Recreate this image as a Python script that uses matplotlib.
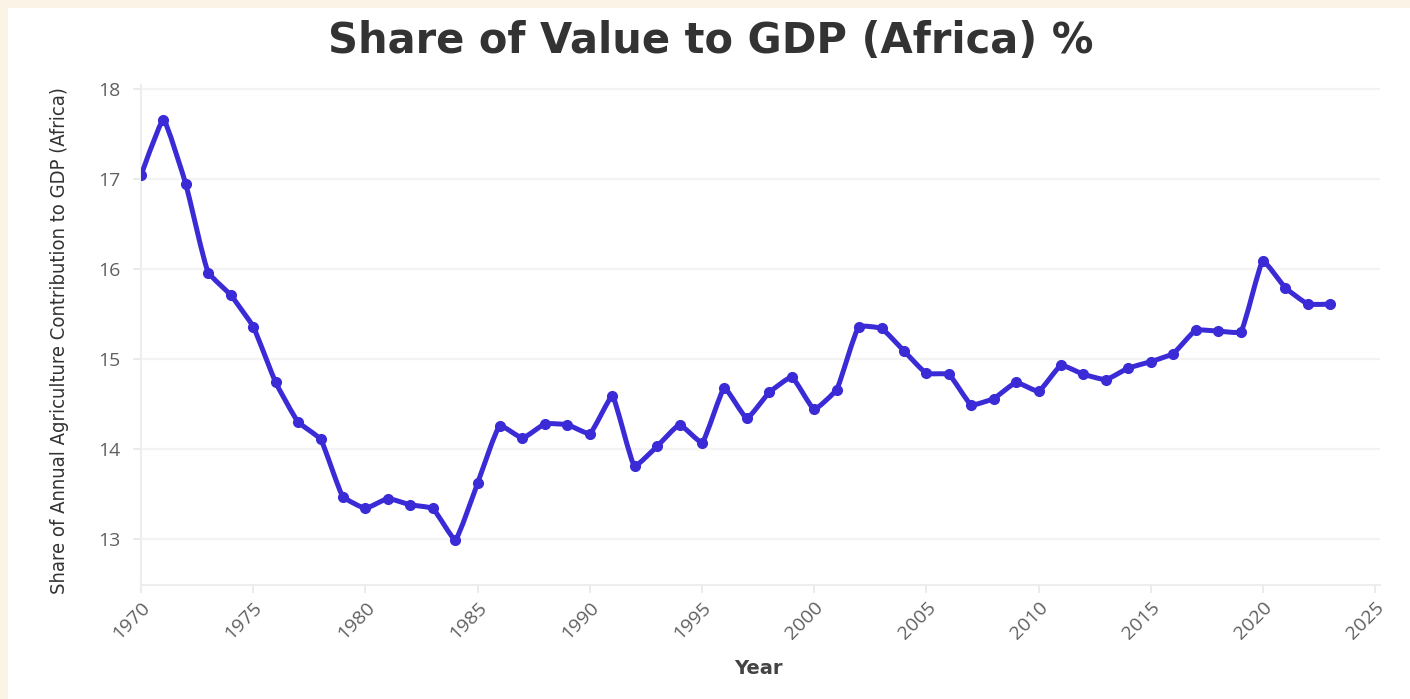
import numpy as np
import matplotlib
matplotlib.use("Agg")
import matplotlib.pyplot as plt
from matplotlib.path import Path
from matplotlib.patches import PathPatch, Rectangle
from matplotlib import font_manager

# データ
years = list(range(1970, 2024))
share = [
    17.04, 17.66, 16.94, 15.96, 15.71, 15.36, 14.74, 14.30, 14.11, 13.47,
    13.34, 13.45, 13.38, 13.34, 12.99, 13.62, 14.26, 14.12, 14.28, 14.27,
    14.17, 14.59, 13.81, 14.03, 14.27, 14.07, 14.68, 14.34, 14.63, 14.80,
    14.44, 14.66, 15.36, 15.34, 15.09, 14.84, 14.83, 14.49, 14.56, 14.74,
    14.64, 14.93, 14.83, 14.77, 14.90, 14.97, 15.06, 15.32, 15.31, 15.30,
    16.09, 15.79, 15.61, 15.61,
]
x_ticks = list(range(1970, 2030, 5))
y_ticks = [13, 14, 15, 16, 17, 18]

title = "Share of Value to GDP (Africa) %"
x_label = "Year"
y_label = "Share of Annual Agriculture Contribution to GDP (Africa)"

LINE_COLOR = "#3B2BD6"
W, H = 1410, 699


def pick_font(*names):
    installed = {f.name for f in font_manager.fontManager.ttflist}
    for n in names:
        if n in installed:
            return n
    return "DejaVu Sans"


def has_condensed(family):
    return any(f.name == family and f.stretch in ("condensed", 300, "semi-condensed")
               for f in font_manager.fontManager.ttflist)


def make_tangent(prev, cur, nxt, smooth):
    # plotly の spline と同じ接線計算（ピクセル座標）
    d1 = prev - cur
    d2 = nxt - cur
    d1a = np.hypot(*d1) ** 0.5
    d2a = np.hypot(*d2) ** 0.5
    num = (d2a * d2a * d1 - d1a * d1a * d2) * smooth
    den1 = 3 * d2a * (d1a + d2a)
    den2 = 3 * d1a * (d1a + d2a)
    return cur + num / den1, cur - num / den2


def spline_path(ax, xs, ys, smooth=0.35):
    pts = ax.transData.transform(np.column_stack([xs, ys]))
    tans = [make_tangent(pts[i - 1], pts[i], pts[i + 1], smooth) for i in range(1, len(pts) - 1)]
    verts = [pts[0], tans[0][0], pts[1]]
    codes = [Path.MOVETO, Path.CURVE3, Path.CURVE3]
    for i in range(2, len(pts) - 1):
        verts += [tans[i - 2][1], tans[i - 1][0], pts[i]]
        codes += [Path.CURVE4] * 3
    verts += [tans[-1][1], pts[-1]]
    codes += [Path.CURVE3] * 2
    verts = ax.transData.inverted().transform(np.array(verts))
    return Path(verts, codes)


def main():
    tick_font = pick_font("Open Sans", "DejaVu Sans")
    narrow_font = pick_font("Liberation Sans Narrow", "DejaVu Sans")
    narrow_kw = {}
    if narrow_font == "DejaVu Sans" and has_condensed("DejaVu Sans"):
        narrow_kw = {"fontstretch": "condensed"}
        ylab_size = 14.5
    elif narrow_font == "DejaVu Sans":
        ylab_size = 12.5
    else:
        ylab_size = 15.5

    fig = plt.figure(figsize=(W / 100, H / 100), dpi=100, facecolor="#FBF3E6")
    fig.patches.append(Rectangle((8 / W, 0), 1, 1 - 8 / H, transform=fig.transFigure,
                                 facecolor="white", edgecolor="none", zorder=-5))

    left, right, bottom, top = 141, 1380, 585, 85
    ax = fig.add_axes([left / W, 1 - bottom / H, (right - left) / W, (bottom - top) / H])
    ax.set_facecolor("white")
    ax.set_xlim(1970, 1970 + (right - left) / 22.44)
    ax.set_ylim(18 - (bottom - 89) / 90, 18 + (89 - top) / 90)

    for s in ["top", "right"]:
        ax.spines[s].set_visible(False)
    for s in ["left", "bottom"]:
        ax.spines[s].set_color("#EDEDED")
        ax.spines[s].set_linewidth(1.5)

    ax.set_yticks(y_ticks)
    ax.set_xticks(x_ticks)
    ax.grid(axis="y", color="#F3F3F3", linewidth=1.6)
    ax.set_axisbelow(True)
    ax.tick_params(axis="both", color="#E8E8E8", length=6, width=1.2,
                   labelcolor="#606060", labelsize=14)
    ax.tick_params(axis="y", pad=9)
    for lab in ax.get_xticklabels() + ax.get_yticklabels():
        lab.set_fontfamily(tick_font)
    plt.setp(ax.get_xticklabels(), rotation=45, ha="right", rotation_mode="anchor")

    path = spline_path(ax, years, share)
    ax.add_patch(PathPatch(path, facecolor="none", edgecolor=LINE_COLOR,
                           linewidth=3.6, capstyle="round", joinstyle="round", zorder=3))
    ax.plot(years, share, "o", color=LINE_COLOR, markersize=7, zorder=4)

    fig.text(0.504, 0.942, title, ha="center", va="center", fontsize=30,
             fontweight="bold", color="#333333", family="DejaVu Sans")
    fig.text(758 / W, 1 - 668 / H, x_label, ha="center", va="center", fontsize=14,
             fontweight="bold", color="#444444", family="DejaVu Sans")
    fig.text(60 / W, 1 - 341 / H, y_label, ha="center", va="center", rotation=90,
             fontsize=ylab_size, color="#333333", family=narrow_font, **narrow_kw)

    fig.savefig("out.png", dpi=100, facecolor=fig.get_facecolor())


if __name__ == "__main__":
    main()
